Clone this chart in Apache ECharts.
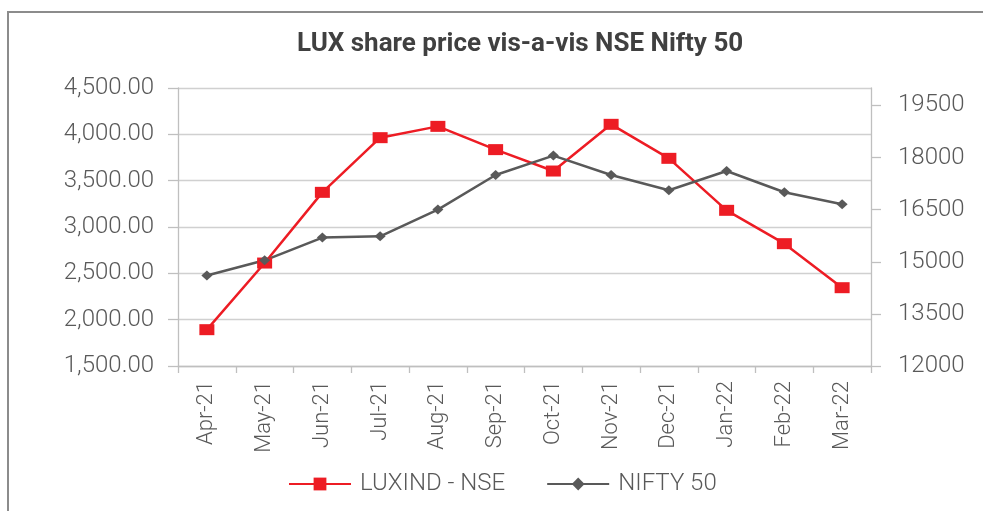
<!DOCTYPE html>
<html>
<head>
<meta charset="utf-8">
<script src="https://cdn.jsdelivr.net/npm/echarts@6/dist/echarts.min.js"></script>
<style>
html, body { margin: 0; padding: 0; background: #fff; overflow: hidden; }
#chart { width: 983px; height: 511px; }
.frame {
    position: absolute; left: 7px; top: 11px; right: 0; bottom: 0;
    border-left: 2px solid #8c8c8c; border-top: 2px solid #8c8c8c;
    pointer-events: none;
}
</style>
</head>
<body>
<div id="chart"></div>
<div class="frame"></div>
<script>
const months = ['Apr-21', 'May-21', 'Jun-21', 'Jul-21', 'Aug-21', 'Sep-21',
    'Oct-21', 'Nov-21', 'Dec-21', 'Jan-22', 'Feb-22', 'Mar-22'];
const luxind = [1892, 2611, 3374, 3964, 4086, 3835, 3604, 4108, 3741, 3180, 2820, 2345];
const nifty = [14602, 15042, 15695, 15733, 16501, 17497, 18055, 17497, 17057, 17612, 17000, 16654];
// right axis ticks (axis max is 20000 but no tick drawn there)
const niftyTicks = [12000, 13500, 15000, 16500, 18000, 19500];

const gray = '#595959';
const axisGray = '#bfbfbf';
const font = 'Roboto';

const chart = echarts.init(document.getElementById('chart'));
chart.setOption({
    animation: false,
    backgroundColor: '#fff',
    title: {
        text: 'LUX share price vis-a-vis NSE Nifty 50',
        left: 297,
        top: 31,
        padding: 0,
        textStyle: { fontFamily: font, fontSize: 26, fontWeight: 'bold', color: '#404040' }
    },
    legend: {
        left: 288,
        top: 472,
        padding: 0,
        itemWidth: 62,
        itemHeight: 16,
        itemGap: 41,
        textStyle: { fontFamily: font, fontSize: 24, fontWeight: 300, color: gray, padding: [0, 0, 0, 4] },
        data: ['LUXIND - NSE', 'NIFTY 50']
    },
    grid: { left: 178, right: 112, top: 88, bottom: 145 },
    xAxis: {
        type: 'category',
        data: months,
        boundaryGap: true,
        axisLine: { lineStyle: { color: axisGray, width: 1.3 } },
        axisTick: { show: true, length: 7, lineStyle: { color: axisGray, width: 1.3 } },
        axisLabel: { interval: 0, rotate: 90, margin: 15, fontFamily: font, fontSize: 22, fontWeight: 300, color: gray }
    },
    yAxis: [{
        type: 'value',
        min: 1500,
        max: 4500,
        interval: 500,
        axisLine: { show: true, lineStyle: { color: axisGray, width: 1.3 } },
        axisTick: { show: true, length: 10, lineStyle: { color: axisGray, width: 1.3 } },
        splitLine: { lineStyle: { color: '#d0d0d0', width: 1.3 } },
        axisLabel: {
            margin: 24, fontFamily: font, fontSize: 24, fontWeight: 300, color: gray,
            formatter: v => v.toLocaleString('en-US', { minimumFractionDigits: 2, maximumFractionDigits: 2 })
        }
    }, {
        type: 'value',
        min: 12000,
        max: 20000,
        interval: 1500,
        position: 'right',
        axisLine: { show: true, lineStyle: { color: axisGray, width: 1.3 } },
        axisTick: { show: true, length: 10, customValues: niftyTicks, lineStyle: { color: axisGray, width: 1.3 } },
        splitLine: { show: false },
        axisLabel: {
            margin: 27, customValues: niftyTicks, fontFamily: font, fontSize: 24, fontWeight: 300, color: gray,
            formatter: v => String(v)
        }
    }],
    series: [{
        name: 'LUXIND - NSE',
        type: 'line',
        yAxisIndex: 0,
        data: luxind,
        symbol: 'rect',
        symbolSize: [15, 11],
        lineStyle: { color: '#ED1C24', width: 2.5 },
        itemStyle: { color: '#ED1C24' }
    }, {
        name: 'NIFTY 50',
        type: 'line',
        yAxisIndex: 1,
        data: nifty,
        symbol: 'diamond',
        symbolSize: [11, 10],
        lineStyle: { color: gray, width: 2.5 },
        itemStyle: { color: gray }
    }]
});
</script>
</body>
</html>
